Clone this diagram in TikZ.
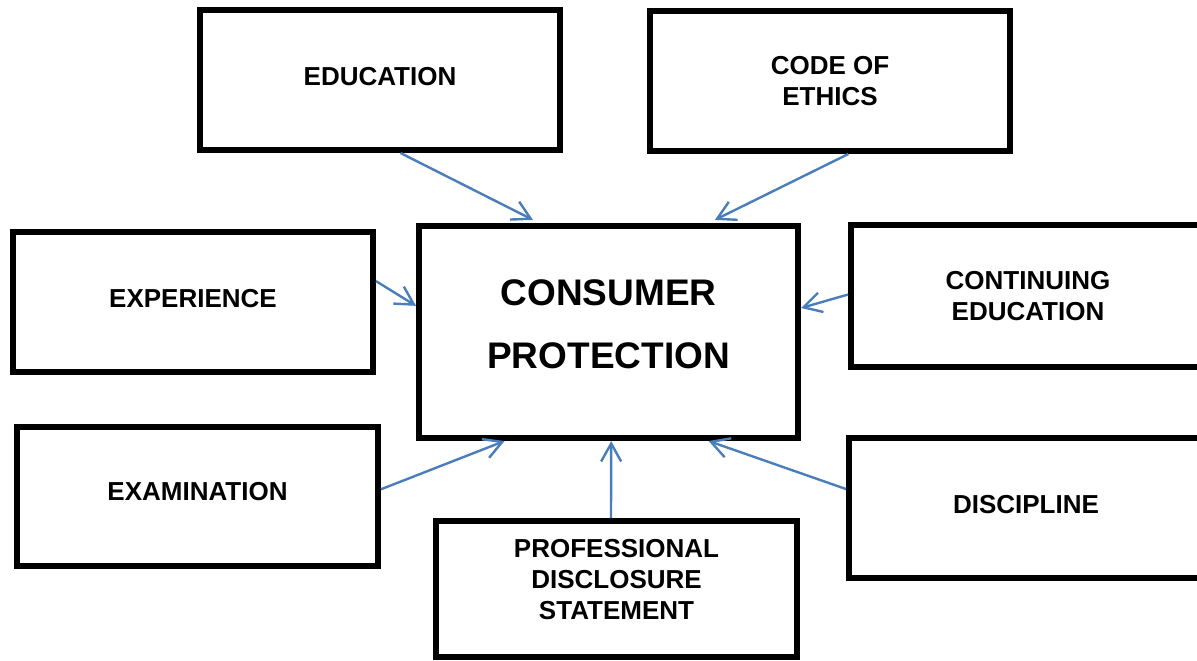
\documentclass[tikz,border=0pt]{standalone}
\usepackage{fontspec}
\setmainfont{Liberation Sans}
\usepackage{tikz}
\usetikzlibrary{arrows.meta,calc}
\definecolor{arrowblue}{RGB}{74,126,187}

\begin{document}
\begin{tikzpicture}[%
		x=0.5pt,y=-0.5pt,
		box/.style={draw,line width=3pt,align=center,inner sep=0pt,
		  font=\bfseries\fontsize{13}{15.5}\selectfont},
		bigbox/.style={box,font=\bfseries\fontsize{18.5}{31.5}\selectfont},
		link/.style={draw=arrowblue,line width=1.2pt,
		  -{Straight Barb[length=9pt,width=10pt]}}]
		  \useasboundingbox (0,0) rectangle (1197,660);
		  \clip (0,0) rectangle (1197,660);
		  \node[box,minimum width=180pt,minimum height=70pt,text depth=4pt] (edu) at (380,80) {EDUCATION};
		  \node[box,minimum width=180pt,minimum height=70pt] (ethics) at (830,81) {CODE OF\\ETHICS};
		  \node[box,minimum width=180pt,minimum height=70pt,text depth=4pt] (exper) at (193,302) {EXPERIENCE};
		  \node[bigbox,minimum width=189.5pt,minimum height=106pt,text depth=8pt] (consumer) at (608.5,332) {CONSUMER\\PROTECTION};
		  \node[box,minimum width=177pt,minimum height=71pt] (contedu) at (1028,296) {CONTINUING\\EDUCATION};
		  \node[box,minimum width=180.5pt,minimum height=69.5pt,text depth=5pt] (exam) at (197.5,496.5) {EXAMINATION};
		  \node[box,minimum width=177pt,minimum height=70pt,text depth=4pt] (discipline) at (1026,508) {DISCIPLINE};
		  \node[box,minimum width=180.5pt,minimum height=68pt,text depth=10pt] (disclose) at (616.5,589) {PROFESSIONAL\\DISCLOSURE\\STATEMENT};
		  \draw[link,shorten >=3.5pt] ($(edu.south west)!0.556!(edu.south east)$)
		    -- ($(consumer.north west)!0.32!(consumer.north east)$);
		  \draw[link,shorten >=3.5pt] ($(ethics.south west)!0.55!(ethics.south east)$)
		    -- ($(consumer.north west)!0.76!(consumer.north east)$);
		  \draw[link] ($(exper.north east)!0.357!(exper.south east)$)
		    -- ($(consumer.north west)!0.38!(consumer.south west)$);
		  \draw[link] ($(contedu.north west)!0.49!(contedu.south west)$)
		    -- ($(consumer.north east)!0.39!(consumer.south east)$);
		  \draw[link] ($(exam.north east)!0.45!(exam.south east)$)
		    -- ($(consumer.south west)!0.23!(consumer.south east)$);
		  \draw[link] ($(disclose.north west)!0.485!(disclose.north east)$)
		    -- ($(consumer.south west)!0.507!(consumer.south east)$);
		  \draw[link] ($(discipline.north west)!0.37!(discipline.south west)$)
		    -- ($(consumer.south west)!0.76!(consumer.south east)$);
		    \end{tikzpicture}
\end{document}
